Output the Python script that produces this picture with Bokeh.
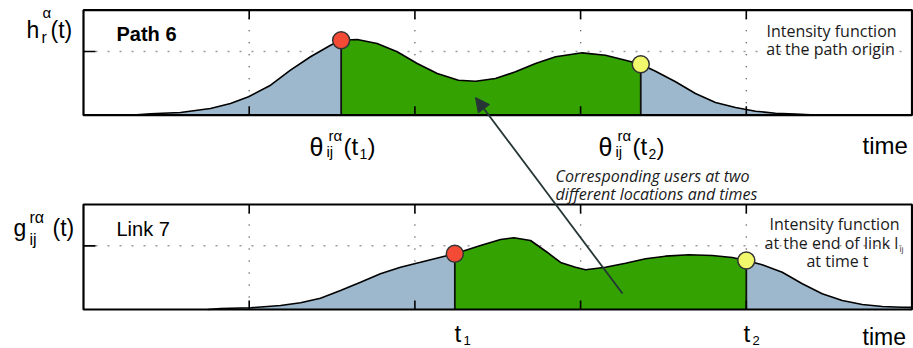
from bokeh.plotting import figure
from bokeh.models import Range1d, Arrow, NormalHead
from bokeh.embed import file_html
from bokeh.resources import INLINE
from bokeh.core.properties import value

# ---------------- data ----------------
# Path 6: intensity function at the path origin, h_r^alpha(t)
path_x = [0.28, 0.404, 0.585, 0.766, 0.887, 0.996, 1.129, 1.249, 1.370, 1.491, 1.555,
          1.652, 1.772, 1.893, 2.014, 2.135, 2.263, 2.366, 2.486, 2.607, 2.728, 2.849,
          3.010, 3.150, 3.271, 3.363, 3.452, 3.573, 3.693, 3.814, 3.935, 4.056, 4.176,
          4.297, 4.45]
path_y = [0.0, 0.022, 0.042, 0.105, 0.184, 0.289, 0.471, 0.707, 0.918, 1.100, 1.178,
          1.190, 1.127, 0.996, 0.812, 0.655, 0.550, 0.534, 0.577, 0.682, 0.812, 0.918,
          0.980, 0.943, 0.864, 0.801, 0.691, 0.525, 0.341, 0.200, 0.121, 0.063, 0.031,
          0.019, 0.0]
path_t1, path_t2 = 1.555, 3.363

# Link 7: intensity function at the end of link l_ij, g_ij^{r alpha}(t)
link_x = [0.75, 0.827, 1.008, 1.189, 1.310, 1.430, 1.551, 1.672, 1.792, 1.913, 2.034,
          2.155, 2.241, 2.396, 2.517, 2.597, 2.698, 2.798, 2.879, 2.969, 3.030, 3.150,
          3.271, 3.392, 3.512, 3.653, 3.794, 3.915, 4.0, 4.096, 4.217, 4.338, 4.458,
          4.579, 4.700, 4.821, 4.941, 5.0]
link_y = [0.0, 0.016, 0.027, 0.063, 0.105, 0.178, 0.299, 0.429, 0.561, 0.665, 0.743,
          0.822, 0.875, 1.006, 1.100, 1.127, 1.084, 0.900, 0.739, 0.665, 0.624, 0.665,
          0.728, 0.797, 0.838, 0.860, 0.849, 0.817, 0.770, 0.702, 0.586, 0.404, 0.247,
          0.141, 0.079, 0.047, 0.036, 0.033]
link_t1, link_t2 = 2.241, 4.0

grid_x = [1, 2, 3, 4]
grid_y = 1.0
x_max = 5.0
y_max = 1.65

# ---------------- styles ----------------
GREEN = "#34a200"
BLUE = "#9db8cc"
RED = "#f44b37"
YELLOW = "#f2f86c"
DOT_LINE = "#333333"
ARROW_C = "#263636"
SANS = value("Liberation Sans")
OPEN = value("Open Sans")

PX = 165.7   # pixels per x unit
PY = 63.64   # pixels per y unit
W, H = 913, 348


def X(sx):
    return (sx - 83) / PX


def Y(sy):
    return (309 - sy) / PY


TOP = Y(114.7)
BOT = 0.0

p = figure(width=W, height=H, output_backend="svg", toolbar_location=None,
           x_range=Range1d(X(0), X(W)), y_range=Range1d(Y(H), Y(0)),
           x_axis_type=None, y_axis_type=None, min_border=0,
           min_border_left=0, min_border_right=0, min_border_top=0, min_border_bottom=0)
p.outline_line_color = None
p.background_fill_color = "white"
p.border_fill_color = "white"


def yat(xs, ys, t):
    return ys[xs.index(t)]


def panel(off, xs, ys, t1, t2):
    # dotted grid
    p.segment(x0=grid_x, y0=[off] * 4, x1=grid_x, y1=[off + y_max] * 4,
              line_color="#333333", line_dash="1 11", line_width=1.3)
    p.segment(x0=[0], y0=[off + grid_y], x1=[x_max], y1=[off + grid_y],
              line_color="#9a9a9a", line_dash="2 10", line_width=1.5)
    # fills
    left = [(x, y) for x, y in zip(xs, ys) if x <= t1]
    mid = [(x, y) for x, y in zip(xs, ys) if t1 <= x <= t2]
    right = [(x, y) for x, y in zip(xs, ys) if x >= t2]
    for seg, col in ((left, BLUE), (mid, GREEN), (right, BLUE)):
        p.varea(x=[a for a, _ in seg], y1=[off] * len(seg),
                y2=[b + off for _, b in seg], fill_color=col)
    # curve
    p.line(xs, [y + off for y in ys], line_color="black", line_width=1.6)
    # split lines
    y1, y2 = yat(xs, ys, t1), yat(xs, ys, t2)
    p.segment(x0=[t1, t2], y0=[off, off], x1=[t1, t2], y1=[off + y1, off + y2],
              line_color="#111111", line_width=1.8)
    # frame and ticks
    p.quad(left=[0], right=[x_max], bottom=[off], top=[off + y_max],
           fill_color=None, line_color="black", line_width=2.2)
    tl = 9 / PY
    p.segment(x0=grid_x, y0=[off] * 4, x1=grid_x, y1=[off + tl] * 4,
              line_color="black", line_width=1.6)
    p.segment(x0=grid_x, y0=[off + y_max] * 4, x1=grid_x, y1=[off + y_max - tl] * 4,
              line_color="black", line_width=1.6)
    p.segment(x0=[0], y0=[off + grid_y], x1=[12 / PX], y1=[off + grid_y],
              line_color="black", line_width=1.6)
    # points at t1 and t2
    p.scatter(x=[t1], y=[off + y1], size=17, fill_color=RED,
              line_color=DOT_LINE, line_width=1.5)
    p.scatter(x=[t2], y=[off + y2], size=17, fill_color=YELLOW,
              line_color=DOT_LINE, line_width=1.5)


panel(TOP, path_x, path_y, path_t1, path_t2)
panel(BOT, link_x, link_y, link_t1, link_t2)


def txt(sx, sy, s, size, font=SANS, style="normal", align="left", color="black"):
    p.text(x=[X(sx)], y=[Y(sy)], text=[s], text_font=font, text_font_size=f"{size}px",
           text_font_style=style, text_align=align, text_baseline="alphabetic",
           text_color=color)


# y-axis style labels
txt(26, 29, "h", 23)
txt(42, 12, "α", 15)
txt(41, 37, "r", 16)
txt(50, 29, "(t)", 23)

txt(13, 227, "g", 23)
txt(29, 217, "rα", 16)
txt(29, 239, "ij", 16)
txt(52, 227, "(t)", 23)

# panel titles
txt(116, 33, "Path 6", 20, style="bold")
txt(116, 228, "Link 7", 20)

# theta labels
for dx, sub in ((0, "1"), (289, "2")):
    txt(309 + dx, 146, "θ", 25)
    txt(328 + dx, 135, "rα", 15)
    txt(326 + dx, 151, "ij", 15)
    txt(343 + dx, 146, "(t", 24)
    txt(359 + dx, 153, sub, 14)
    txt(367 + dx, 146, ")", 24)

# t labels
txt(454, 333, "t", 24)
txt(463, 340, "1", 13)
txt(743, 333, "t", 24)
txt(752, 340, "2", 13)

# time
txt(862, 145, "time", 24)
txt(862, 336, "time", 23)

# right-hand descriptions
txt(831, 30, "Intensity function", 16, font=OPEN, align="center", color="#1a1a1a")
txt(830, 48, "at the path origin", 16, font=OPEN, align="center", color="#1a1a1a")
txt(834, 223, "Intensity function", 16, font=OPEN, align="center", color="#1a1a1a")
txt(831, 242, "at the end of link l", 16, font=OPEN, align="center", color="#1a1a1a")
txt(899, 248, "ij", 8, font=OPEN, color="#1a1a1a")
txt(837, 260, "at time t", 16, font=OPEN, align="center", color="#1a1a1a")

# annotation
txt(555, 175, "Corresponding users at two", 16, font=OPEN, style="italic", color="#1a1a1a")
txt(555, 193, "different locations and times", 16, font=OPEN, style="italic", color="#1a1a1a")

p.add_layout(Arrow(end=NormalHead(size=14, fill_color=ARROW_C, line_color=ARROW_C),
                   x_start=X(622), y_start=Y(293), x_end=X(475), y_end=Y(97),
                   line_color=ARROW_C, line_width=1.8))

open("out.html", "w").write(file_html(p, INLINE))
